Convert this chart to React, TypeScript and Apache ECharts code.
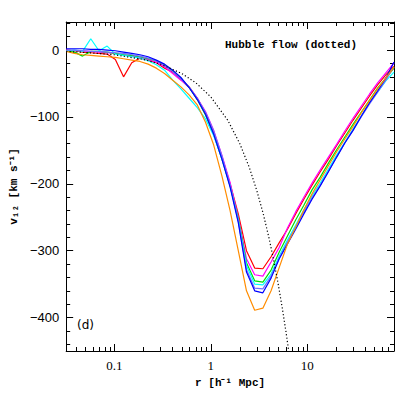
import React, { useEffect, useRef } from "react";
import * as echarts from "echarts";

// log10(r / h^-1 Mpc) grid on which the measured curves are sampled
const LOG_R = [-1.5, -1.415, -1.33, -1.245, -1.16, -1.075, -0.99, -0.905, -0.82, -0.735, -0.65, -0.565, -0.48, -0.395, -0.31, -0.225, -0.14, -0.055, 0.03, 0.115, 0.2, 0.285, 0.37, 0.455, 0.54, 0.625, 0.71, 0.795, 0.88, 0.965, 1.05, 1.135, 1.22, 1.305, 1.39, 1.475, 1.56, 1.645, 1.73, 1.815, 1.9];

const V_RED = [0, -1, -3, -4, -5, -6, -14, -40, -19, -12, -15, -19, -27, -33, -44, -55, -72, -94, -123, -160, -200, -245, -300, -326, -327, -309, -288, -268, -245, -223, -202, -182, -163, -143, -124, -105, -87, -69, -52, -37, -24];
const V_MAGENTA = [0, -1, -1, -2, -3, -4, -5, -7, -9, -11, -14, -18, -25, -35, -45, -56, -72, -92, -120, -157, -198, -250, -312, -336, -338, -317, -295, -266, -242, -220, -199, -179, -160, -141, -121, -102, -84, -66, -49, -34, -19];
const V_GREEN = [-1, -3, -9, -2, -2, -3, -5, -7, -8, -10, -13, -16, -22, -31, -42, -56, -74, -97, -126, -163, -203, -252, -318, -345, -347, -329, -302, -278, -254, -232, -209, -190, -169, -149, -130, -111, -93, -75, -57, -42, -27];
const V_CYAN = [-1, 0, -2, 17, -1, 6, -6, -8, -10, -12, -16, -22, -30, -45, -58, -72, -86, -103, -128, -162, -203, -254, -322, -350, -351, -335, -308, -284, -262, -239, -218, -199, -178, -157, -138, -118, -99, -79, -63, -46, -33];
const V_LIGHTBLUE = [0, 0, -1, -2, -2, -3, -4, -5, -7, -9, -12, -16, -23, -32, -43, -55, -72, -93, -121, -158, -202, -256, -328, -356, -357, -338, -311, -287, -265, -242, -221, -202, -181, -160, -139, -120, -100, -81, -63, -45, -25];
const V_BLUE = [2, 2, 2, 1, 1, 0, -1, -3, -5, -7, -10, -15, -21, -30, -41, -56, -74, -96, -126, -163, -205, -258, -332, -360, -363, -341, -312, -290, -268, -245, -223, -203, -182, -160, -139, -120, -99, -79, -61, -42, -18];
const V_ORANGE = [-2, -5, -7, -8, -9, -10, -11, -13, -15, -17, -21, -27, -35, -45, -55, -67, -82, -108, -142, -188, -240, -300, -360, -389, -386, -360, -325, -290, -265, -239, -215, -194, -173, -152, -133, -114, -94, -76, -58, -42, -25];

// Hubble flow (dotted): r [h^-1 Mpc] and v [km/s]
const HUBBLE_R = [0.0316, 0.05, 0.1, 0.2, 0.3, 0.5, 0.7, 1, 1.5, 2, 2.5, 3, 3.5, 4, 4.5, 5, 5.5, 6, 6.5];
const HUBBLE_V = [-2, -3.5, -7, -14, -21, -35, -49, -70, -105, -140, -175, -210, -245, -280, -315, -350, -385, -420, -455];

const SERIES_COLORS = ["#ff0000", "#ff00ff", "#00e000", "#00ffff", "#6f6fff", "#0000ff", "#ff8c00"];
const SERIES_VALUES = [V_RED, V_MAGENTA, V_GREEN, V_CYAN, V_LIGHTBLUE, V_BLUE, V_ORANGE];

// axis ticks
const X_MAJOR = [-1, 0, 1];
const X_LABELS = ["0.1", "1", "10"];
const X_MINOR_R = [0.04, 0.05, 0.06, 0.07, 0.08, 0.09, 0.2, 0.3, 0.4, 0.5, 0.6, 0.7, 0.8, 0.9, 2, 3, 4, 5, 6, 7, 8, 9, 20, 30, 40, 50, 60, 70];
const Y_MAJOR = [-400, -300, -200, -100, 0];
const Y_MINOR = [-440, -420, -380, -360, -340, -320, -280, -260, -240, -220, -180, -160, -140, -120, -80, -60, -40, -20, 20, 40];

const X_MIN = -1.5;
const X_MAX = 1.9;
const Y_MIN = -450;
const Y_MAX = 42;

export default function App() {
  const ref = useRef<HTMLDivElement>(null);
  useEffect(() => {
    if (!ref.current) return;
    const chart = echarts.init(ref.current, undefined, { renderer: "svg" });
    const black = "#000";
    const xMinor = X_MINOR_R.map((r) => Math.log10(r));
    const xAxisBase = (pos: string, ticks: number[], len: number, showLine: boolean, labels: boolean) => ({
      type: "value",
      min: X_MIN,
      max: X_MAX,
      position: pos,
      axisLine: { show: showLine, onZero: false, lineStyle: { color: black, width: 1 } },
      axisTick: { show: true, inside: true, length: len, customValues: ticks, lineStyle: { color: black, width: 1 } },
      axisLabel: labels
        ? {
            show: true,
            customValues: X_MAJOR,
            margin: 8,
            color: black,
            fontFamily: "Liberation Serif",
            fontSize: 13,
            formatter: (v: number) => {
              const i = X_MAJOR.findIndex((m) => Math.abs(m - v) < 1e-6);
              return i >= 0 ? X_LABELS[i] : "";
            },
          }
        : { show: false },
      splitLine: { show: false },
    });
    const yAxisBase = (pos: string, ticks: number[], len: number, showLine: boolean, labels: boolean) => ({
      type: "value",
      min: Y_MIN,
      max: Y_MAX,
      position: pos,
      axisLine: { show: showLine, onZero: false, lineStyle: { color: black, width: 1 } },
      axisTick: { show: true, inside: true, length: len, customValues: ticks, lineStyle: { color: black, width: 1 } },
      axisLabel: labels
        ? {
            show: true,
            customValues: Y_MAJOR,
            margin: 7,
            color: black,
            fontFamily: "Liberation Sans",
            fontSize: 13,
            formatter: (v: number) => String(v).replace("-", "\u2212"),
          }
        : { show: false },
      splitLine: { show: false },
    });

    const xMain: any = xAxisBase("bottom", X_MAJOR, 7, true, true);
    xMain.name = "r [h\u207b\u00b9 Mpc]";
    xMain.nameLocation = "middle";
    xMain.nameGap = 26;
    xMain.nameTextStyle = { color: black, fontFamily: "Liberation Mono", fontWeight: "bold", fontSize: 11 };

    const yMain: any = yAxisBase("left", Y_MAJOR, 7, true, true);
    yMain.name = "v\u2081\u2082 [km s\u207b\u00b9]";
    yMain.nameLocation = "middle";
    yMain.nameRotate = 90;
    yMain.nameGap = 46;
    yMain.nameTextStyle = { color: black, fontFamily: "Liberation Mono", fontWeight: "bold", fontSize: 11 };

    const series: any[] = SERIES_VALUES.map((vals, i) => ({
      type: "line",
      xAxisIndex: 0,
      yAxisIndex: 0,
      showSymbol: false,
      symbol: "none",
      data: LOG_R.map((x, j) => [x, vals[j]]),
      lineStyle: { color: SERIES_COLORS[i], width: 1.2 },
      itemStyle: { color: SERIES_COLORS[i] },
      z: 3,
    }));
    series.push({
      type: "line",
      xAxisIndex: 0,
      yAxisIndex: 0,
      showSymbol: false,
      symbol: "none",
      data: HUBBLE_R.map((r, j) => [Math.log10(r), HUBBLE_V[j]]),
      lineStyle: { color: black, width: 1.2, type: [1.2, 2.2] },
      z: 4,
    });

    chart.setOption({
      animation: false,
      backgroundColor: "#fff",
      grid: { left: 64, top: 22, right: 21, bottom: 64, containLabel: false },
      xAxis: [
        xMain,
        xAxisBase("bottom", xMinor, 4, false, false),
        xAxisBase("top", X_MAJOR, 7, true, false),
        xAxisBase("top", xMinor, 4, false, false),
      ],
      yAxis: [
        yMain,
        yAxisBase("left", Y_MINOR, 4, false, false),
        yAxisBase("right", Y_MAJOR, 7, true, false),
        yAxisBase("right", Y_MINOR, 4, false, false),
      ],
      series,
      graphic: [
        {
          type: "text",
          left: 225,
          top: 39,
          style: { text: "Hubble flow (dotted)", fill: black, font: "bold 11px 'Liberation Mono'" },
        },
        {
          type: "text",
          left: 77,
          top: 319,
          style: { text: "(d)", fill: black, font: "12px 'DejaVu Sans'" },
        },
      ],
    });
    return () => chart.dispose();
  }, []);
  return <div ref={ref} style={{ width: 415, height: 415, position: "absolute", left: 0, top: 0 }} />;
}
